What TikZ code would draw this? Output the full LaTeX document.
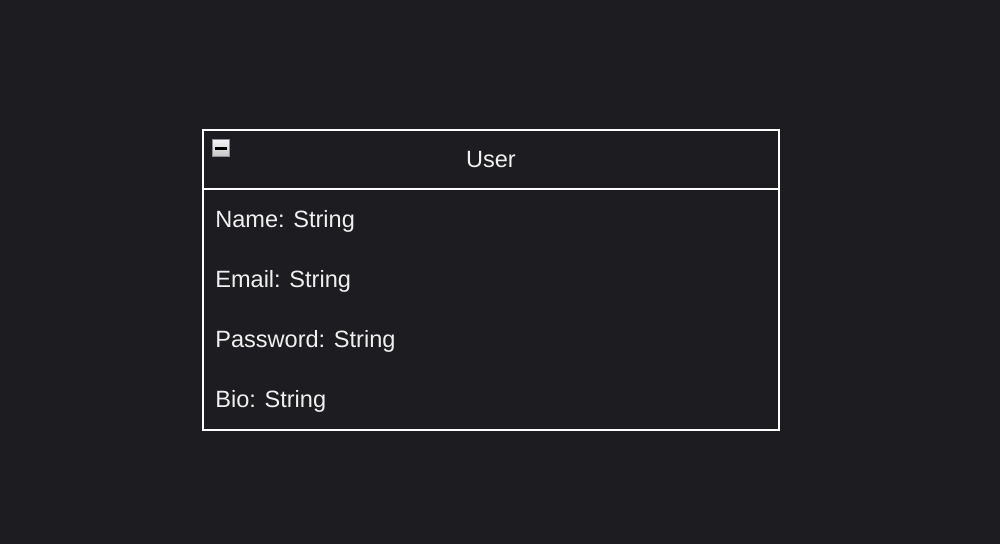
\documentclass[tikz,border=0pt]{standalone}
\usepackage{fontspec}
\setmainfont{Liberation Sans}
\usetikzlibrary{positioning}
\definecolor{bgdark}{RGB}{29,29,33}
\definecolor{txtlight}{RGB}{240,240,240}
\definecolor{icongray}{RGB}{140,142,150}

\begin{document}
\begin{tikzpicture}[
  x=0.02cm,y=-0.02cm,
  every node/.style={font=\fontsize{13.4}{16}\selectfont,text=txtlight},
  classbox/.style={draw=white,line width=1.1pt,minimum width=11.52cm,
                   inner sep=0pt,outer sep=0pt},
  attr/.style={anchor=base west,inner sep=0pt},
  togglebox/.style={draw=icongray,line width=0.8pt,minimum size=0.34cm,
                    inner sep=0pt,top color=white!92!gray,bottom color=gray!45},
]
% canvas
\fill[bgdark] (0,0) rectangle (1000,544);
\useasboundingbox (0,0) rectangle (1000,544);

% class User
\node[classbox,anchor=north west,minimum height=1.18cm] (head) at (203,130) {User};
\node[classbox,below=0pt of head,minimum height=4.82cm] (body) {};

% collapse toggle
\node[togglebox] (toggle) at (221,148) {};
\draw[black,line width=0.06cm] ([xshift=-0.12cm]toggle.center) -- ([xshift=0.12cm]toggle.center);

% attributes
\node[attr] (name) at (215,227) {Name: String};
\node[attr] (email) at (215,287) {Email: String};
\node[attr] (pass) at (215,347) {Password: String};
\node[attr] (bio) at (215,407) {Bio: String};
\end{tikzpicture}
\end{document}
